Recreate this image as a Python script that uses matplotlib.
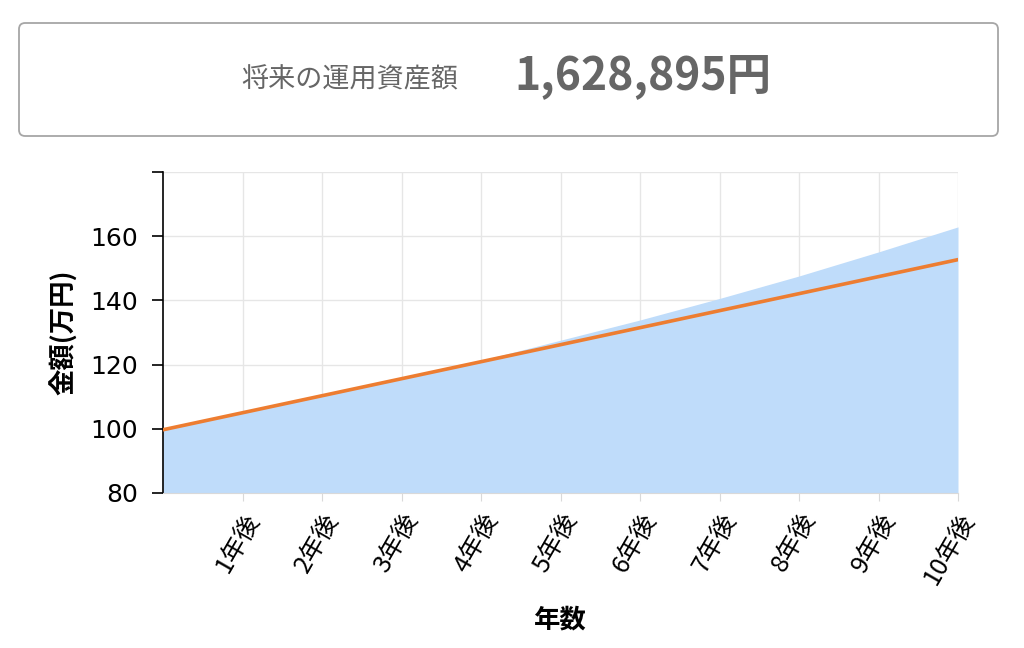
import matplotlib.pyplot as plt
from matplotlib.patches import FancyBboxPatch

# values in 万円
years = [0, 1, 2, 3, 4, 5, 6, 7, 8, 9, 10]
total = [100.0, 105.3, 110.6, 115.9, 121.3, 127.6, 133.9, 140.6, 147.6, 155.1, 162.9]
principal = [99.7, 105.0, 110.3, 115.6, 120.9, 126.2, 131.5, 136.8, 142.1, 147.4, 152.7]
tick_years = [1, 2, 3, 4, 5, 6, 7, 8, 9, 10]
tick_labels = ["1年後", "2年後", "3年後", "4年後", "5年後",
               "6年後", "7年後", "8年後", "9年後", "10年後"]
y_ticks = [80, 100, 120, 140, 160, 180]
headline = "将来の運用資産額"
amount = "1,628,895円"

plt.rcParams['font.family'] = ['DejaVu Sans', 'Noto Sans CJK JP']
cjk = ['Noto Sans CJK JP', 'DejaVu Sans']

fig = plt.figure(figsize=(10.24, 6.48), dpi=100)

# result box on top
W, H = 1024, 648
box = FancyBboxPatch((19 / W, 1 - 136 / H), (998 - 19) / W, (136 - 23) / H,
                     boxstyle="round,pad=0,rounding_size=0.006",
                     transform=fig.transFigure, facecolor="white",
                     edgecolor="#a6a6a6", linewidth=1.3, mutation_aspect=W / H)
fig.patches.append(box)
fig.text(350 / W, 1 - 80 / H, headline, family=cjk, fontsize=19.5, color="#666666",
         ha="center", va="center")
fig.text(514 / W, 1 - 76 / H, amount, family=cjk, fontsize=32, fontweight="bold",
         color="#666666", ha="left", va="center")

ax = fig.add_axes([163 / W, 1 - 493 / H, (958 - 163) / W, (493 - 172) / H])
ax.fill_between(years, total, 80, color="#bfdcfa", linewidth=0, zorder=2)
ax.plot(years, principal, color="#ed7d31", linewidth=2.6, zorder=3)

ax.set_xlim(0, 10)
ax.set_ylim(80, 180)
ax.set_yticks(y_ticks)
ax.set_yticklabels([str(v) if v < 180 else "" for v in y_ticks], fontsize=18)
ax.set_xticks(tick_years)
ax.set_xticklabels(tick_labels, family=cjk, fontsize=18, rotation=60,
                   ha="right", va="top", rotation_mode="anchor")
ax.grid(True, color="#e6e6e6", linewidth=1, zorder=0)
ax.set_axisbelow(True)

for s in ["top", "right"]:
    ax.spines[s].set_visible(False)
ax.spines["left"].set_color("black")
ax.spines["left"].set_linewidth(1.2)
ax.spines["bottom"].set_color("#d9d9d9")
ax.tick_params(axis="y", length=8, width=1.2, color="black", pad=10)
ax.tick_params(axis="x", length=6, color="#d9d9d9", pad=5)

ax.set_ylabel("金額(万円)", family=cjk, fontsize=19, fontweight="bold", labelpad=9)
ax.set_xlabel("年数", family=cjk, fontsize=19, fontweight="bold", labelpad=13)

fig.savefig("out.png", dpi=100)
